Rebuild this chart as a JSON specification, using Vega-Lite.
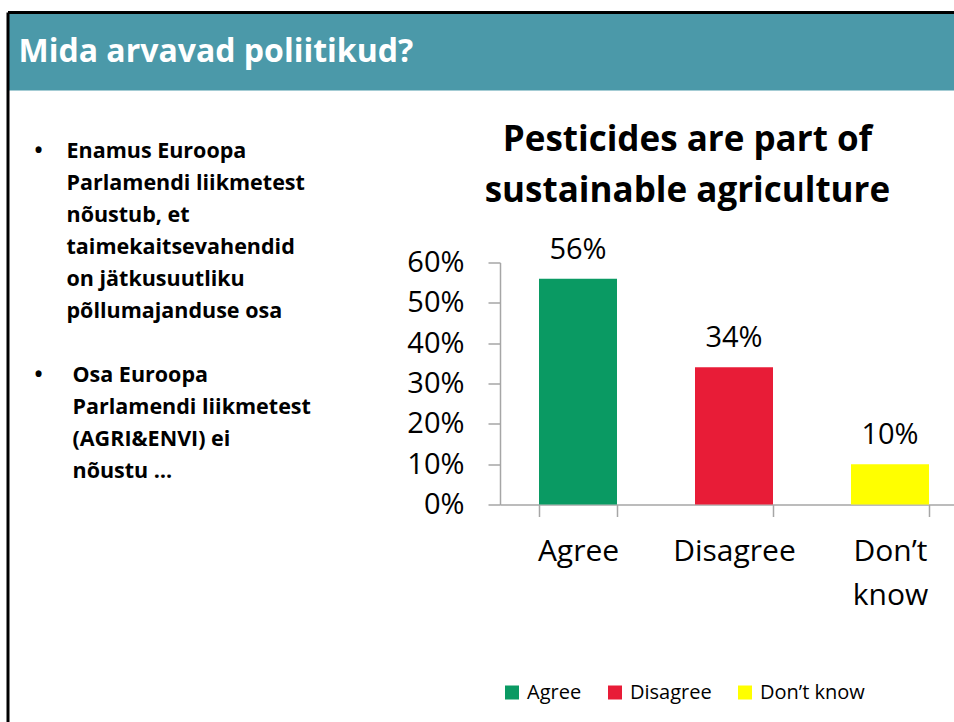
{
  "$schema": "https://vega.github.io/schema/vega-lite/v6.json",
  "background": "white",
  "padding": {"left": 6, "top": 10.5, "right": 0, "bottom": 0},
  "bounds": "flush",
  "spacing": 172,
  "config": {"view": {"stroke": null}, "font": "Open Sans"},
  "datasets": {
    "survey": [
      {"answer": "Agree", "share": 0.56},
      {"answer": "Disagree", "share": 0.34},
      {"answer": "Don’t know", "share": 0.10}
    ],
    "bullets": [
      {"item": 1, "line": 1, "text": "Enamus Euroopa"},
      {"item": 1, "line": 2, "text": "Parlamendi liikmetest"},
      {"item": 1, "line": 3, "text": "nõustub, et"},
      {"item": 1, "line": 4, "text": "taimekaitsevahendid"},
      {"item": 1, "line": 5, "text": "on jätkusuutliku"},
      {"item": 1, "line": 6, "text": "põllumajanduse osa"},
      {"item": 2, "line": 8, "text": "Osa Euroopa"},
      {"item": 2, "line": 9, "text": "Parlamendi liikmetest"},
      {"item": 2, "line": 10, "text": "(AGRI&ENVI) ei"},
      {"item": 2, "line": 11, "text": "nõustu …"}
    ]
  },
  "vconcat": [
    {
      "width": 950,
      "height": 78,
      "view": {"fill": "#4b99a9", "stroke": null},
      "data": {"values": [{"heading": "Mida arvavad poliitikud?"}]},
      "layer": [
        {
          "mark": {"type": "text", "align": "left", "baseline": "middle", "dx": 10.5, "font": "Open Sans", "fontSize": 32, "fontWeight": "bold", "color": "white"},
          "encoding": {
            "x": {"datum": 0, "type": "quantitative", "scale": {"domain": [0, 1], "nice": false, "zero": false}, "axis": null},
            "y": {"datum": 0.5, "type": "quantitative", "scale": {"domain": [0, 1], "nice": false, "zero": false}, "axis": null},
            "text": {"field": "heading"}
          }
        },
        {
          "mark": {"type": "rule", "color": "black", "strokeWidth": 3},
          "encoding": {"x": {"datum": 0, "type": "quantitative"}, "x2": {"datum": 1}, "y": {"datum": 1, "type": "quantitative"}}
        },
        {
          "mark": {"type": "rule", "color": "black", "strokeWidth": 3},
          "encoding": {"x": {"datum": 0, "type": "quantitative"}, "y": {"datum": 1, "type": "quantitative"}, "y2": {"datum": -10}}
        }
      ]
    },
    {
      "bounds": "flush",
      "spacing": 0,
      "hconcat": [
        {
          "width": 491.5,
          "height": 460,
          "data": {"name": "bullets"},
          "layer": [
            {
              "mark": {"type": "text", "align": "left", "baseline": "middle", "font": "Open Sans", "fontSize": 21.5, "fontWeight": "bold", "color": "black"},
              "encoding": {
                "x": {"field": "item", "type": "ordinal", "scale": {"type": "point", "domain": [1, 2], "range": [58.5, 64.5], "padding": 0}, "axis": null},
                "y": {"field": "line", "type": "quantitative", "scale": {"domain": [1, 11], "range": [-111, 209], "nice": false, "zero": false}, "axis": null},
                "text": {"field": "text"}
              }
            },
            {
              "transform": [{"aggregate": [{"op": "min", "field": "line", "as": "line"}], "groupby": ["item"]}],
              "mark": {"type": "text", "text": "•", "align": "left", "baseline": "middle", "dx": -32, "font": "Open Sans", "fontSize": 21.5, "fontWeight": "bold", "color": "black"},
              "encoding": {
                "x": {"datum": 1, "type": "ordinal"},
                "y": {"field": "line", "type": "quantitative"}
              }
            }
          ]
        },
        {
          "width": 468,
          "height": 242,
          "data": {"name": "survey"},
          "title": {
            "text": ["Pesticides are part of", "sustainable agriculture"],
            "font": "Open Sans",
            "fontSize": 35,
            "fontWeight": "bold",
            "lineHeight": 51,
            "color": "black",
            "anchor": "middle",
            "frame": "bounds",
            "offset": 27
          },
          "encoding": {
            "x": {
              "field": "answer",
              "type": "nominal",
              "sort": null,
              "scale": {"paddingInner": 0.5, "paddingOuter": 0.25},
              "axis": {
                "title": null,
                "labelAngle": 0,
                "labelFont": "Open Sans",
                "labelFontSize": 30,
                "labelColor": "black",
                "labelPadding": 20,
                "labelLineHeight": 44,
                "labelExpr": "datum.value == 'Don’t know' ? ['Don’t', 'know'] : datum.value",
                "domainColor": "#a6a6a6",
                "domainWidth": 1.5,
                "tickColor": "#a6a6a6",
                "tickWidth": 1.5,
                "tickSize": 12,
                "tickBand": "extent"
              }
            }
          },
          "layer": [
            {
              "mark": {"type": "bar"},
              "encoding": {
                "y": {
                  "field": "share",
                  "type": "quantitative",
                  "scale": {"domain": [0, 0.6], "nice": false},
                  "axis": {
                    "title": null,
                    "format": ".0%",
                    "values": [0, 0.1, 0.2, 0.3, 0.4, 0.5, 0.6],
                    "grid": false,
                    "labelFont": "Open Sans",
                    "labelFontSize": 29,
                    "labelColor": "black",
                    "labelPadding": 24,
                    "domainColor": "#a6a6a6",
                    "domainWidth": 1.5,
                    "tickColor": "#a6a6a6",
                    "tickWidth": 1.5,
                    "tickSize": 12
                  }
                },
                "color": {
                  "field": "answer",
                  "type": "nominal",
                  "scale": {"domain": ["Agree", "Disagree", "Don’t know"], "range": ["#0a9a63", "#e81c37", "#ffff00"]},
                  "legend": {
                    "orient": "none",
                    "legendX": 494,
                    "legendY": 670,
                    "direction": "horizontal",
                    "title": null,
                    "symbolType": "square",
                    "symbolSize": 196,
                    "symbolStrokeWidth": 0,
                    "labelFont": "Open Sans",
                    "labelFontSize": 20,
                    "labelColor": "black",
                    "labelOffset": 5,
                    "columnPadding": 23,
                    "padding": 0
                  }
                }
              }
            },
            {
              "mark": {"type": "text", "baseline": "alphabetic", "dy": -20, "font": "Open Sans", "fontSize": 29, "color": "black"},
              "encoding": {
                "y": {"field": "share", "type": "quantitative"},
                "text": {"field": "share", "type": "quantitative", "format": ".0%"}
              }
            }
          ]
        }
      ]
    }
  ]
}
